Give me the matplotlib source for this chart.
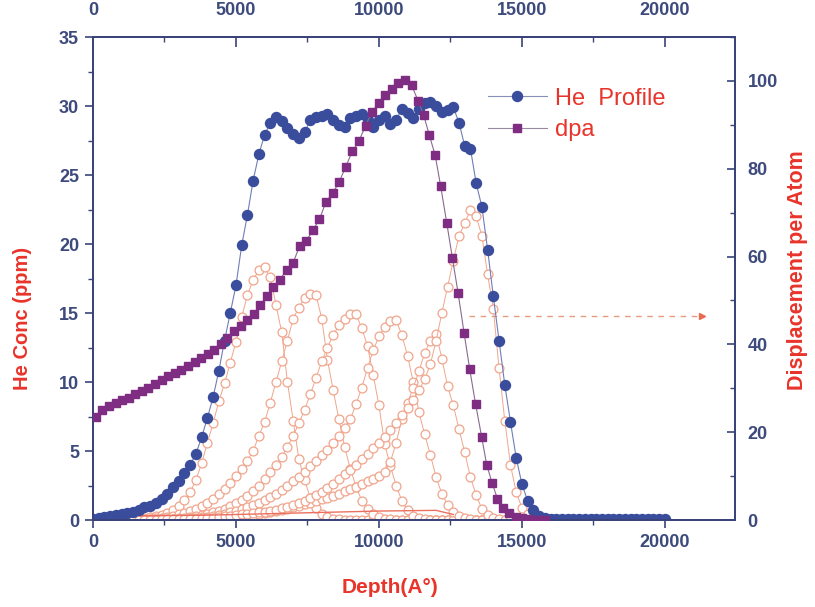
import matplotlib
matplotlib.use('Agg')
import matplotlib.pyplot as plt
from matplotlib.ticker import MultipleLocator
from matplotlib.lines import Line2D
from matplotlib import font_manager

plt.rcParams['font.family'] = ['Liberation Sans', 'DejaVu Sans']

# ---------------- data ----------------
he_depth = [0, 200, 400, 600, 800, 1000, 1200, 1400, 1600, 1800,
            2000, 2200, 2400, 2600, 2800, 3000, 3200, 3400, 3600, 3800,
            4000, 4200, 4400, 4600, 4800, 5000, 5200, 5400, 5600, 5800,
            6000, 6200, 6400, 6600, 6800, 7000, 7200, 7400, 7600, 7800,
            8000, 8200, 8400, 8600, 8800, 9000, 9200, 9400, 9600, 9800,
            10000, 10200, 10400, 10600, 10800, 11000, 11200, 11400, 11600, 11800,
            12000, 12200, 12400, 12600, 12800, 13000, 13200, 13400, 13600, 13800,
            14000, 14200, 14400, 14600, 14800, 15000, 15200, 15400, 15600, 15800,
            16000, 16200, 16400, 16600, 16800, 17000, 17200, 17400, 17600, 17800,
            18000, 18200, 18400, 18600, 18800, 19000, 19200, 19400, 19600, 19800,
            20000]
he_profile = [0.1, 0.15, 0.25, 0.3, 0.35, 0.4, 0.5, 0.6, 0.75, 0.95,
              1.05, 1.2, 1.5, 1.9, 2.4, 2.8, 3.4, 4.0, 4.8, 6.0,
              7.4, 8.9, 10.8, 13.0, 15.0, 17.0, 19.9, 22.1, 24.6, 26.5,
              27.9, 28.8, 29.2, 28.9, 28.4, 28.0, 27.7, 28.1, 29.0, 29.2,
              29.3, 29.4, 29.0, 28.6, 28.5, 29.1, 29.3, 29.4, 29.0, 28.5,
              29.0, 29.3, 28.7, 29.0, 29.8, 29.5, 29.1, 29.8, 30.2, 30.3,
              30.0, 29.6, 29.7, 29.9, 28.8, 27.1, 26.9, 24.4, 22.7, 19.6,
              16.2, 13.0, 9.8, 7.1, 4.5, 2.6, 1.4, 0.7, 0.3, 0.15,
              0.08, 0.05, 0.05, 0.05, 0.05, 0.05, 0.05, 0.05, 0.05, 0.05,
              0.05, 0.05, 0.05, 0.05, 0.05, 0.05, 0.05, 0.05, 0.05, 0.05,
              0.05]

dpa_depth = [100, 330, 560, 790, 1020, 1250, 1480, 1710, 1940, 2170,
             2400, 2630, 2860, 3090, 3320, 3550, 3780, 4010, 4240, 4470,
             4700, 4930, 5160, 5390, 5620, 5850, 6080, 6310, 6540, 6770,
             7000, 7230, 7460, 7690, 7920, 8150, 8380, 8610, 8840, 9070,
             9300, 9530, 9760, 9990, 10220, 10450, 10680, 10910, 11140, 11370,
             11560, 11760, 11965, 12160, 12370, 12570, 12770, 12975, 13175, 13380,
             13590, 13770, 13960, 14140, 14340, 14550, 14780, 15000, 15200, 15400,
             15600, 15800]
dpa = [23.5, 25.0, 26.0, 26.7, 27.3, 27.9, 28.6, 29.3, 30.1, 31.0,
       31.9, 32.7, 33.4, 34.2, 35.0, 35.9, 36.8, 37.8, 38.8, 40.0,
       41.5, 43.0, 44.3, 45.6, 47.0, 49.0, 51.0, 53.0, 54.7, 57.0,
       58.6, 62.5, 63.6, 66.0, 68.5, 72.5, 74.4, 77.0, 80.5, 84.0,
       86.3, 89.8, 93.0, 95.0, 96.8, 98.2, 99.6, 100.2, 99.0, 95.5,
       92.3, 87.7, 83.1, 76.0, 67.7, 59.6, 51.6, 42.7, 34.3, 26.4,
       19.0, 12.5, 8.4, 4.9, 2.7, 1.5, 0.8, 0.4, 0.2, 0.1,
       0.05, 0.03]

# implantation profiles (open circles), common depth grid
imp_depth = [0, 200, 400, 600, 800, 1000, 1200, 1400, 1600, 1800,
             2000, 2200, 2400, 2600, 2800, 3000, 3200, 3400, 3600, 3800,
             4000, 4200, 4400, 4600, 4800, 5000, 5200, 5400, 5600, 5800,
             6000, 6200, 6400, 6600, 6800, 7000, 7200, 7400, 7600, 7800,
             8000, 8200, 8400, 8600, 8800, 9000, 9200, 9400, 9600, 9800,
             10000, 10200, 10400, 10600, 10800, 11000, 11200, 11400, 11600, 11800,
             12000, 12200, 12400, 12600, 12800, 13000, 13200, 13400, 13600, 13800,
             14000, 14200, 14400, 14600, 14800, 15000, 15200, 15400, 15600, 15800,
             16000]
imp_1 = [0.05, 0.05, 0.06, 0.07, 0.08, 0.09, 0.1, 0.12, 0.14, 0.17,
         0.2, 0.28, 0.38, 0.52, 0.75, 1.05, 1.45, 2.0, 2.9, 4.1,
         5.6, 7.0, 8.6, 9.9, 11.4, 12.9, 14.7, 16.3, 17.4, 18.1,
         18.3, 17.6, 15.6, 13.6, 10.0, 7.2, 4.4, 2.9, 1.6, 0.9,
         0.45, 0.22, 0.1, 0.05, 0.03, 0.02, 0.02, 0.02, 0.02, 0.02,
         0.02, 0.02, 0.02, 0.02, 0.02, 0.02, 0.02, 0.02, 0.02, 0.02,
         0.02, 0.02, 0.02, 0.02, 0.02, 0.02, 0.02, 0.02, 0.02, 0.02,
         0.02, 0.02, 0.02, 0.02, 0.02, 0.02, 0.02, 0.02, 0.02, 0.02,
         0.02]
imp_2 = [0.03, 0.03, 0.04, 0.04, 0.05, 0.05, 0.06, 0.07, 0.08, 0.09,
         0.1, 0.13, 0.17, 0.22, 0.3, 0.4, 0.5, 0.62, 0.78, 0.98,
         1.2, 1.5, 1.85, 2.25, 2.7, 3.2, 3.7, 4.3, 5.0, 6.1,
         7.1, 8.5, 10.0, 11.5, 13.0, 14.6, 15.4, 16.1, 16.4, 16.3,
         14.6, 11.6, 9.4, 7.3, 5.3, 3.7, 2.4, 1.4, 0.8, 0.4,
         0.2, 0.1, 0.05, 0.03, 0.02, 0.02, 0.02, 0.02, 0.02, 0.02,
         0.02, 0.02, 0.02, 0.02, 0.02, 0.02, 0.02, 0.02, 0.02, 0.02,
         0.02, 0.02, 0.02, 0.02, 0.02, 0.02, 0.02, 0.02, 0.02, 0.02,
         0.02]
imp_3 = [0.02, 0.02, 0.02, 0.02, 0.02, 0.02, 0.02, 0.03, 0.03, 0.03,
         0.04, 0.05, 0.06, 0.08, 0.1, 0.13, 0.17, 0.22, 0.28, 0.35,
         0.45, 0.55, 0.68, 0.82, 1.0, 1.2, 1.45, 1.75, 2.1, 2.5,
         2.95, 3.45, 4.0, 4.6, 5.3, 6.1, 7.0, 8.0, 9.1, 10.3,
         11.5, 12.5, 13.4, 14.1, 14.6, 14.9, 14.9, 13.9, 12.6, 10.5,
         8.3, 5.5, 3.9, 2.5, 1.4, 0.7, 0.3, 0.12, 0.05, 0.03,
         0.02, 0.02, 0.02, 0.02, 0.02, 0.02, 0.02, 0.02, 0.02, 0.02,
         0.02, 0.02, 0.02, 0.02, 0.02, 0.02, 0.02, 0.02, 0.02, 0.02,
         0.02]
imp_4 = [0.02, 0.02, 0.02, 0.02, 0.02, 0.02, 0.02, 0.02, 0.02, 0.02,
         0.03, 0.03, 0.04, 0.05, 0.06, 0.08, 0.1, 0.12, 0.15, 0.19,
         0.24, 0.3, 0.37, 0.45, 0.55, 0.66, 0.78, 0.92, 1.08, 1.25,
         1.45, 1.65, 1.9, 2.15, 2.45, 2.8, 3.15, 3.5, 3.9, 4.3,
         4.7, 5.1, 5.6, 6.1, 6.7, 7.3, 8.4, 9.6, 11.0, 12.3,
         13.3, 14.0, 14.4, 14.5, 13.4, 11.9, 10.0, 7.8, 6.2, 4.7,
         3.1, 1.9, 1.1, 0.6, 0.3, 0.12, 0.05, 0.03, 0.02, 0.02,
         0.02, 0.02, 0.02, 0.02, 0.02, 0.02, 0.02, 0.02, 0.02, 0.02,
         0.02]
imp_5 = [0.02, 0.02, 0.02, 0.02, 0.02, 0.02, 0.02, 0.02, 0.02, 0.02,
         0.03, 0.03, 0.03, 0.04, 0.04, 0.05, 0.05, 0.06, 0.07, 0.08,
         0.1, 0.12, 0.14, 0.17, 0.2, 0.24, 0.28, 0.33, 0.38, 0.44,
         0.5, 0.57, 0.65, 0.73, 0.82, 0.92, 1.02, 1.13, 1.25, 1.38,
         1.5, 1.63, 1.77, 1.92, 2.08, 2.25, 2.42, 2.6, 2.8, 3.0,
         3.2, 3.5, 4.2, 5.6, 7.3, 8.5, 9.6, 10.8, 12.1, 13.0,
         13.5, 11.7, 9.7, 8.3, 6.6, 4.9, 3.1, 1.8, 0.8, 0.35,
         0.12, 0.05, 0.03, 0.02, 0.02, 0.02, 0.02, 0.02, 0.02, 0.02,
         0.02]
imp_6 = [0.02, 0.02, 0.02, 0.02, 0.02, 0.02, 0.02, 0.02, 0.02, 0.02,
         0.03, 0.03, 0.04, 0.04, 0.05, 0.06, 0.07, 0.08, 0.1, 0.12,
         0.15, 0.18, 0.22, 0.26, 0.3, 0.35, 0.4, 0.45, 0.5, 0.55,
         0.6, 0.67, 0.75, 0.85, 0.95, 1.1, 1.25, 1.4, 1.6, 1.8,
         2.0, 2.3, 2.6, 2.95, 3.3, 3.65, 4.0, 4.4, 4.8, 5.2,
         5.6, 6.0, 6.5, 7.0, 7.6, 8.1, 8.7, 9.4, 10.2, 11.3,
         13.0, 15.0, 16.9, 18.8, 20.6, 21.5, 22.5, 22.0, 20.6, 17.8,
         15.3, 11.0, 7.2, 4.0, 2.0, 0.9, 0.4, 0.15, 0.05, 0.03,
         0.02]
imp_profiles = [imp_1, imp_2, imp_3, imp_4, imp_5, imp_6]

tail_depth = [1600, 4000, 6000, 8000, 10000, 12000, 12600]
tail_conc = [0.3, 0.35, 0.45, 0.55, 0.65, 0.7, 0.4]

x_ticks = [0, 5000, 10000, 15000, 20000]
y_ticks = [0, 5, 10, 15, 20, 25, 30, 35]
dpa_ticks = [0, 20, 40, 60, 80, 100]
arrow_y = 14.8
arrow_x = (13150, 21300)

# ---------------- style ----------------
blue = '#3a4d9c'
purple = '#7e2d82'
salmon = '#f0a58c'
red = '#e8342b'
tick_col = '#3d4a7c'
spine_col = '#3a4479'

installed = {f.name for f in font_manager.fontManager.ttflist}
tick_family = ['Liberation Sans Narrow', 'Liberation Sans'] \
    if 'Liberation Sans Narrow' in installed else ['Liberation Sans']

fig = plt.figure(figsize=(8.15, 6.07), dpi=100)
ax = fig.add_axes([0.1141, 0.1433, 0.7877, 0.7957])
ax2 = ax.twinx()

for prof in imp_profiles:
    ax.plot(imp_depth, prof, color=salmon, lw=0.7, marker='o', ms=6.4,
            mfc='white', mec=salmon, mew=0.9, zorder=2)
ax.plot(tail_depth, tail_conc, color='#ec7060', lw=1.0, zorder=2)

ax.plot(he_depth, he_profile, color='#6f7fb8', lw=0.8, marker='o', ms=7.2,
        mfc=blue, mec=blue, zorder=4)
ax2.plot(dpa_depth, dpa, color='#8a6a90', lw=0.8, marker='s', ms=6.2,
         mfc=purple, mec=purple, zorder=3)

ax.plot([arrow_x[0], arrow_x[1]], [arrow_y, arrow_y], color='#e89a80',
        lw=1.0, ls=(0, (4, 4)), zorder=2)
ax.plot([arrow_x[1]], [arrow_y], marker='>', ms=5, color='#e86a50', zorder=2)

ax.set_xlim(0, 22450)
ax.set_ylim(0, 35)
ax2.set_ylim(0, 110)

ax.set_xticks(x_ticks)
ax.set_yticks(y_ticks)
ax.xaxis.set_minor_locator(MultipleLocator(2500))
ax.yaxis.set_minor_locator(MultipleLocator(2.5))
ax2.set_yticks(dpa_ticks)
ax2.yaxis.set_minor_locator(MultipleLocator(10))

tfont = dict(fontsize=13, fontweight='bold', color=tick_col, family=tick_family)
ax.set_xticklabels([str(t) for t in x_ticks], **tfont)
ax.set_yticklabels([str(t) for t in y_ticks], **tfont)
ax2.set_yticklabels([str(t) for t in dpa_ticks], **tfont)

ax.tick_params(axis='both', which='major', direction='out', length=6,
               width=1.2, color=spine_col, pad=4)
ax.tick_params(axis='both', which='minor', direction='out', length=3.5,
               width=1.0, color=spine_col)
ax2.tick_params(axis='y', which='major', direction='in', length=6,
                width=1.2, color=spine_col, pad=9)
ax2.tick_params(axis='y', which='minor', direction='in', length=3.5,
                width=1.0, color=spine_col)

top = ax.secondary_xaxis('top')
top.set_xticks(x_ticks)
top.set_xticklabels([str(t) for t in x_ticks], **tfont)
top.xaxis.set_minor_locator(MultipleLocator(2500))
top.tick_params(axis='x', which='major', direction='in', length=7,
                width=1.2, color=spine_col, pad=13)
top.tick_params(axis='x', which='minor', direction='in', length=3.5,
                width=1.0, color=spine_col)
top.spines['top'].set_color(spine_col)
top.spines['top'].set_linewidth(1.4)

for a in (ax, ax2):
    for s in a.spines.values():
        s.set_color(spine_col)
        s.set_linewidth(1.4)

ax.set_xlabel('Depth(A°)', fontsize=15, fontweight='bold', color=red)
ax.xaxis.set_label_coords(0.463, -0.12)
ax.set_ylabel('He Conc (ppm)', fontsize=14.5, fontweight='bold', color=red)
ax.yaxis.set_label_coords(-0.095, 0.418)
ax2.set_ylabel('Displacement per Atom', fontsize=15.5, fontweight='bold',
               color=red)
ax2.yaxis.set_label_coords(1.081, 0.518)

handles = [Line2D([], [], color='#8890b8', lw=0.8, marker='o', ms=7.2,
                  mfc=blue, mec=blue),
           Line2D([], [], color='#9a8aa0', lw=0.8, marker='s', ms=6.2,
                  mfc=purple, mec=purple)]
leg = ax2.legend(handles, ['He  Profile', 'dpa'], loc='upper left',
                 bbox_to_anchor=(0.6, 0.915), frameon=False, fontsize=17,
                 handlelength=2.5, handletextpad=0.35, labelspacing=0.4,
                 borderaxespad=0)
for t in leg.get_texts():
    t.set_color(red)

fig.savefig('out.png', dpi=100)
